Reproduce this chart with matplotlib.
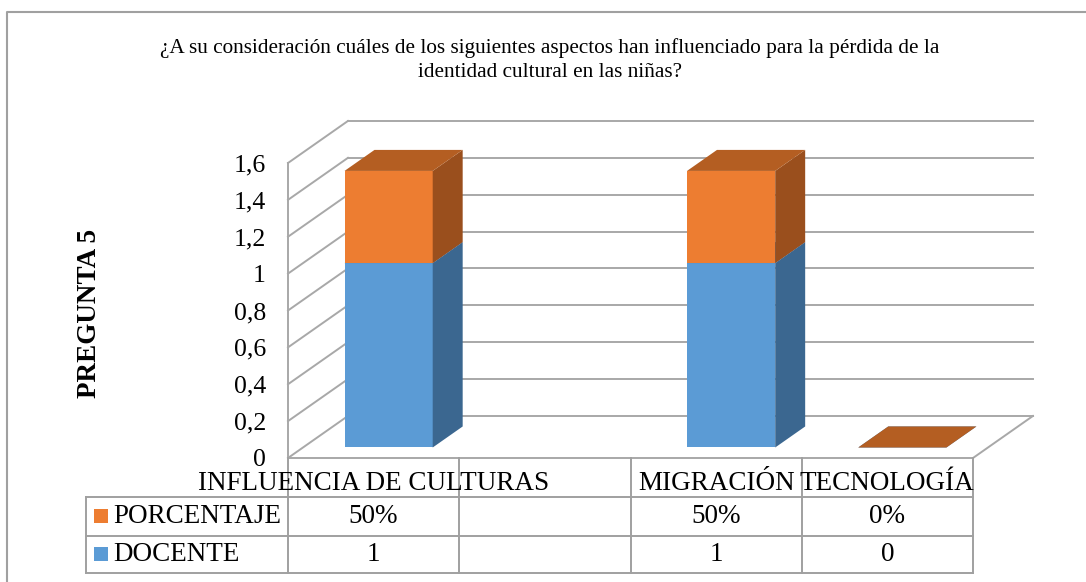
import numpy as np
import matplotlib

matplotlib.use("Agg")
import matplotlib.pyplot as plt  # noqa: E402
from matplotlib.patches import Polygon, Rectangle  # noqa: E402
from matplotlib.transforms import blended_transform_factory  # noqa: E402

plt.rcParams["font.family"] = ["Liberation Serif", "DejaVu Serif"]

# ---------------------------------------------------------------- data
TITLE = ("¿A su consideración cuáles de los siguientes aspectos han influenciado para la pérdida de la\n"
         "identidad cultural en las niñas?")
YLABEL = "PREGUNTA 5"
CATEGORIES = ["INFLUENCIA DE CULTURAS", "", "MIGRACIÓN", "TECNOLOGÍA"]
DOCENTE = [1.0, np.nan, 1.0, 0.0]
PORCENTAJE = [0.5, np.nan, 0.5, 0.0]
DOCENTE_TXT = ["1", "", "1", "0"]
PORCENTAJE_TXT = ["50%", "", "50%", "0%"]
YTICKS = [0, 0.2, 0.4, 0.6, 0.8, 1.0, 1.2, 1.4, 1.6]
YTICKLABELS = ["0", "0,2", "0,4", "0,6", "0,8", "1", "1,2", "1,4", "1,6"]

# ---------------------------------------------------------------- style
BLUE = ("#5B9BD5", "#3B6790", "#4A7DAE")      # front, side, top
ORANGE = ("#ED7D31", "#9A4F1D", "#B45E22")
GRID = "#A8A8A8"
TBL = "#A0A0A0"
DX, DY = 0.35, 0.228        # full depth of the 3-D box in data units
Z0, Z1 = 0.25, 0.75         # bars sit in the middle half of the depth
W = 0.515                   # bar width
FS = 19.5                   # table text


def box(ax, x, y0, y1, cols):
    xl, xr = x - W / 2, x + W / 2
    fx, fy, bx, by = Z0 * DX, Z0 * DY, Z1 * DX, Z1 * DY
    top = [(xl + fx, y1 + fy), (xr + fx, y1 + fy), (xr + bx, y1 + by), (xl + bx, y1 + by)]
    if y1 > y0:
        front = [(xl + fx, y0 + fy), (xr + fx, y0 + fy), (xr + fx, y1 + fy), (xl + fx, y1 + fy)]
        side = [(xr + fx, y0 + fy), (xr + bx, y0 + by), (xr + bx, y1 + by), (xr + fx, y1 + fy)]
        ax.add_patch(Polygon(front, closed=True, fc=cols[0], ec="none", zorder=4, clip_on=False))
        ax.add_patch(Polygon(side, closed=True, fc=cols[1], ec="none", zorder=4, clip_on=False))
    ax.add_patch(Polygon(top, closed=True, fc=cols[2], ec="none", zorder=4, clip_on=False))


fig = plt.figure(figsize=(10.86, 5.82), dpi=100)

# overlay in pixel units for frame, title, axis label
lay = fig.add_axes([0, 0, 1, 1], zorder=0)
lay.set_xlim(0, 1086)
lay.set_ylim(582, 0)
lay.axis("off")
lay.plot([7, 7, 1086], [582, 12, 12], color="#A0A0A0", lw=1.5)
lay.text(550, 60, TITLE, ha="center", va="center", fontsize=15.3, linespacing=1.3)
lay.text(89, 313, YLABEL, rotation=90, ha="center", va="center", fontsize=19.5, fontweight="bold")

# main axes: front plane of the 3-D chart
ax = fig.add_axes([288 / 1086, 1 - 458 / 582, 685 / 1086, 295 / 582], zorder=1)
ax.patch.set_alpha(0)
ax.set_xlim(-0.5, 3.5)
ax.set_ylim(0, 1.6)
for s in ax.spines.values():
    s.set_visible(False)
ax.set_xticks([])
ax.set_yticks(YTICKS)
ax.set_yticklabels(YTICKLABELS, fontsize=18.5)
ax.tick_params(axis="y", length=0, pad=16)

x0, x1 = ax.get_xlim()
for v in YTICKS:
    ax.plot([x0 + DX, x1 + DX], [v + DY, v + DY], color=GRID, lw=1.4, zorder=1, clip_on=False)
    ax.plot([x0, x0 + DX], [v, v + DY], color=GRID, lw=1.4, zorder=1, clip_on=False)
ax.plot([x0, x0], [0, YTICKS[-1]], color=GRID, lw=1.4, zorder=1, clip_on=False)
ax.plot([x0, x1], [0, 0], color=GRID, lw=1.4, zorder=1, clip_on=False)
ax.plot([x1, x1 + DX], [0, DY], color=GRID, lw=1.4, zorder=1, clip_on=False)

for i, (d, p) in enumerate(zip(DOCENTE, PORCENTAJE)):
    if np.isnan(d):
        continue
    box(ax, i, 0, d, BLUE)
    box(ax, i, d, d + p, ORANGE)

# ---------------------------------------------------------------- data table
tr = blended_transform_factory(ax.transData, ax.transAxes)
ROWS = [0, -0.132, -0.264, -0.390]
LEG_X = -1.68
kw = dict(color=TBL, lw=1.4, transform=tr, clip_on=False, zorder=2)
for k in range(len(CATEGORIES) + 1):
    ax.plot([x0 + k, x0 + k], [ROWS[0], ROWS[-1]], **kw)
for r in ROWS[1:]:
    ax.plot([LEG_X, x1], [r, r], **kw)
ax.plot([LEG_X, LEG_X], [ROWS[1], ROWS[-1]], **kw)

for i, c in enumerate(CATEGORIES):
    ax.text(i, (ROWS[0] + ROWS[1]) / 2 - 0.022, c, transform=tr, ha="center", va="center",
            fontsize=FS, clip_on=False)
rows = [("PORCENTAJE", PORCENTAJE_TXT, ORANGE[0]), ("DOCENTE", DOCENTE_TXT, BLUE[0])]
for j, (name, vals, col) in enumerate(rows):
    yc = (ROWS[j + 1] + ROWS[j + 2]) / 2
    ax.add_patch(Rectangle((LEG_X + 0.046, yc - 0.0237), 0.082, 0.0475, transform=tr,
                           fc=col, ec="none", clip_on=False))
    ax.text(LEG_X + 0.16, yc, name, transform=tr, ha="left", va="center", fontsize=FS)
    for i, v in enumerate(vals):
        ax.text(i, yc, v, transform=tr, ha="center", va="center", fontsize=FS)

fig.savefig("out.png", dpi=100)
